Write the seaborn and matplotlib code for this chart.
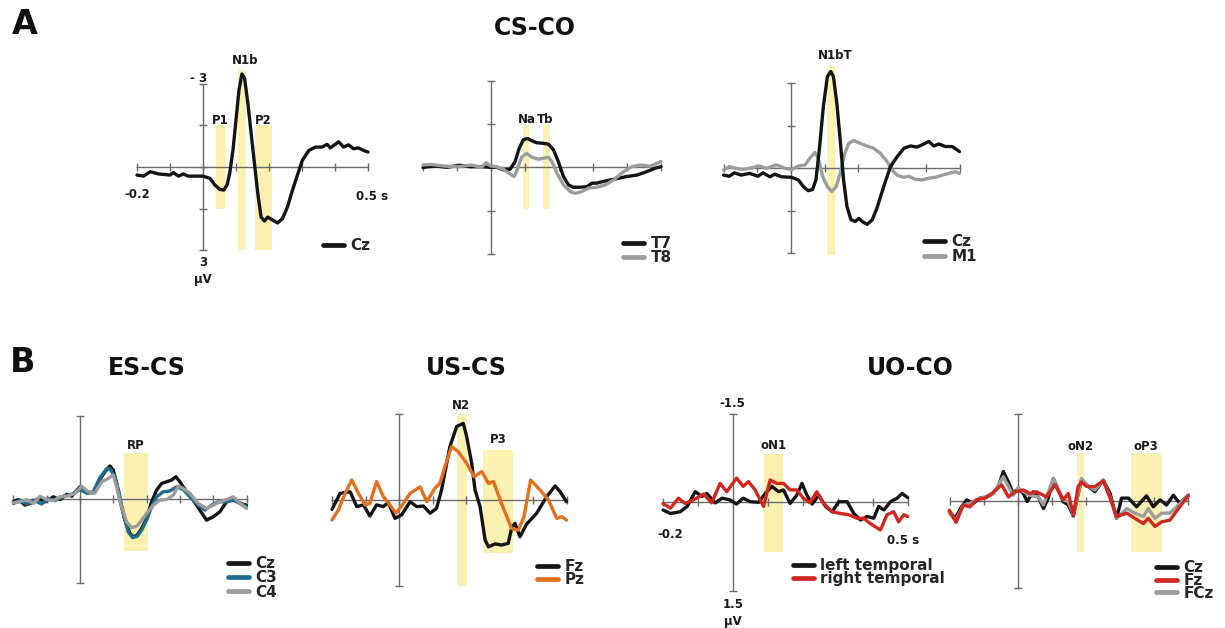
import numpy as np
import pandas as pd
import matplotlib
matplotlib.use("Agg")
import matplotlib.pyplot as plt
from matplotlib.lines import Line2D
import seaborn as sns

W, H = 1225, 628

# ---------------- colours ----------------
BLACK = "#141414"
GRAY = "#9c9c9c"
TEAL = "#1c6e8c"
ORANGE = "#e3701e"
RED = "#d0281e"
SHADE = "#fcf0b0"
AXIS = "#6a6a6a"

# ---------------- A: CS-CO, Cz ----------------
a1_t = [-0.2, -0.18, -0.16, -0.135, -0.1, -0.09, -0.074, -0.06, -0.045, -0.025, 0.0, 0.021,
        0.036, 0.051, 0.063, 0.073, 0.081, 0.091, 0.101, 0.109, 0.118, 0.126, 0.136, 0.146,
        0.156, 0.166, 0.176, 0.186, 0.196, 0.209, 0.226, 0.241, 0.256, 0.271, 0.286, 0.301,
        0.321, 0.341, 0.361, 0.376, 0.386, 0.411, 0.426, 0.441, 0.456, 0.471, 0.486, 0.5]
a1_cz = [0.29, 0.33, 0.17, 0.25, 0.29, 0.2, 0.33, 0.25, 0.33, 0.33, 0.33, 0.41,
         0.65, 0.81, 0.83, 0.65, 0.22, -0.62, -1.82, -2.78, -3.36, -3.2, -2.3, -1.2,
         -0.12, 0.96, 1.81, 1.95, 1.81, 1.9, 2.02, 1.86, 1.44, 0.84, 0.3, -0.24,
         -0.6, -0.72, -0.72, -0.82, -0.69, -0.91, -0.72, -0.8, -0.66, -0.69, -0.6, -0.54]

# ---------------- A: CS-CO, T7 / T8 ----------------
a2_t7_t = [-0.2, -0.186, -0.16, -0.13, -0.091, -0.062, -0.027, -0.002, 0.017, 0.037, 0.056,
           0.071, 0.083, 0.095, 0.107, 0.12, 0.134, 0.154, 0.169, 0.184, 0.198, 0.213, 0.228,
           0.242, 0.262, 0.282, 0.297, 0.311, 0.326, 0.35, 0.375, 0.399, 0.429, 0.458, 0.483, 0.5]
a2_t7 = [0.01, -0.02, -0.04, 0.0, -0.07, -0.02, -0.02, 0.0, 0.0, 0.09, 0.07,
         -0.2, -0.66, -0.95, -1.0, -0.92, -0.85, -0.83, -0.8, -0.6, -0.2, 0.32, 0.61,
         0.69, 0.69, 0.67, 0.55, 0.55, 0.5, 0.44, 0.38, 0.32, 0.27, 0.15, 0.03, -0.02]
a2_t8_t = [-0.2, -0.176, -0.136, -0.097, -0.058, -0.028, -0.014, -0.002, 0.017, 0.037, 0.056,
           0.068, 0.077, 0.09, 0.105, 0.12, 0.139, 0.154, 0.169, 0.179, 0.194, 0.213, 0.233,
           0.248, 0.267, 0.287, 0.311, 0.336, 0.36, 0.39, 0.414, 0.439, 0.468, 0.493, 0.5]
a2_t8 = [-0.08, -0.1, -0.04, -0.02, -0.08, 0.0, -0.16, -0.05, -0.02, 0.07, 0.23,
         0.32, 0.09, -0.35, -0.48, -0.35, -0.28, -0.31, -0.35, -0.2, 0.2, 0.61, 0.84,
         0.9, 0.84, 0.72, 0.69, 0.61, 0.44, 0.15, -0.02, -0.08, -0.04, -0.16, -0.2]

# ---------------- A: CS-CO, Cz / M1 ----------------
a3_cz_t = [-0.2, -0.183, -0.168, -0.148, -0.123, -0.098, -0.083, -0.063, -0.048, -0.028,
           0.002, 0.022, 0.037, 0.051, 0.064, 0.074, 0.084, 0.096, 0.108, 0.118, 0.126, 0.136,
           0.146, 0.156, 0.166, 0.178, 0.191, 0.201, 0.211, 0.226, 0.241, 0.255, 0.275, 0.295,
           0.315, 0.335, 0.355, 0.374, 0.389, 0.409, 0.424, 0.439, 0.458, 0.478, 0.493, 0.5]
a3_cz = [0.24, 0.28, 0.16, 0.24, 0.18, 0.28, 0.16, 0.3, 0.21, 0.3,
         0.32, 0.41, 0.65, 0.79, 0.75, 0.41, -0.65, -2.18, -3.24, -3.42, -3.24, -2.3,
         -1.0, 0.41, 1.35, 1.82, 1.88, 1.77, 1.88, 1.98, 1.82, 1.41, 0.65, -0.06,
         -0.41, -0.71, -0.79, -0.75, -0.83, -0.95, -0.79, -0.86, -0.77, -0.77, -0.65, -0.59]
a3_m1_t = [-0.2, -0.183, -0.163, -0.143, -0.123, -0.093, -0.073, -0.043, -0.018, 0.002,
           0.022, 0.042, 0.056, 0.071, 0.081, 0.094, 0.108, 0.121, 0.134, 0.146, 0.158, 0.171,
           0.186, 0.206, 0.225, 0.245, 0.265, 0.285, 0.3, 0.315, 0.334, 0.349, 0.369, 0.389,
           0.409, 0.429, 0.449, 0.468, 0.488, 0.5]
a3_m1 = [0.06, -0.06, 0.0, 0.04, 0.0, -0.08, 0.0, -0.12, 0.0, 0.04,
         -0.08, -0.12, -0.36, -0.56, -0.36, 0.29, 0.65, 0.82, 0.65, 0.18, -0.47, -0.88,
         -0.98, -0.88, -0.79, -0.71, -0.53, -0.24, 0.06, 0.24, 0.32, 0.28, 0.39, 0.41,
         0.35, 0.32, 0.24, 0.18, 0.12, 0.18]

# ---------------- B: ES-CS, Cz / C3 / C4 ----------------
b1_cz_t = [-0.2, -0.185, -0.165, -0.145, -0.125, -0.105, -0.08, -0.06, -0.04, -0.025, 0.0,
           0.02, 0.04, 0.055, 0.075, 0.09, 0.1, 0.11, 0.12, 0.135, 0.15, 0.16, 0.172, 0.185,
           0.2, 0.215, 0.23, 0.245, 0.26, 0.275, 0.288, 0.3, 0.32, 0.34, 0.36, 0.38, 0.4,
           0.42, 0.44, 0.46, 0.48, 0.5]
b1_cz = [0.09, 0.01, 0.21, 0.12, -0.03, 0.09, -0.09, 0.01, -0.18, -0.11, -0.45,
         -0.27, -0.23, -0.63, -0.99, -1.2, -1.05, -0.57, 0.03, 0.75, 1.23, 1.35, 1.29, 1.05,
         0.69, 0.09, -0.33, -0.57, -0.63, -0.69, -0.81, -0.63, -0.27, 0.03, 0.39, 0.75, 0.63,
         0.45, 0.09, 0.01, 0.15, 0.21]
b1_c3_t = [-0.2, -0.18, -0.16, -0.14, -0.115, -0.095, -0.075, -0.05, -0.025, 0.0, 0.022,
           0.04, 0.06, 0.08, 0.09, 0.105, 0.118, 0.132, 0.145, 0.158, 0.172, 0.185, 0.2,
           0.215, 0.23, 0.25, 0.27, 0.29, 0.31, 0.33, 0.35, 0.375, 0.395, 0.415, 0.44, 0.46,
           0.48, 0.5]
b1_c3 = [0.15, 0.03, 0.17, 0.03, 0.17, -0.03, 0.05, -0.11, -0.18, -0.35, -0.21,
         -0.27, -0.78, -1.1, -1.1, -0.8, -0.21, 0.63, 1.17, 1.38, 1.33, 1.11, 0.75,
         0.27, -0.09, -0.27, -0.3, -0.45, -0.35, -0.09, 0.15, 0.39, 0.21, 0.09, 0.09, 0.03,
         0.12, 0.27]
b1_c4_t = [-0.2, -0.18, -0.16, -0.14, -0.12, -0.1, -0.08, -0.06, -0.04, -0.015, 0.005,
           0.025, 0.045, 0.065, 0.085, 0.1, 0.11, 0.122, 0.14, 0.155, 0.17, 0.185, 0.2, 0.22,
           0.24, 0.26, 0.28, 0.295, 0.31, 0.33, 0.355, 0.38, 0.4, 0.42, 0.44, 0.46, 0.48, 0.5]
b1_c4 = [0.12, 0.09, 0.01, 0.15, -0.11, 0.01, 0.05, -0.09, -0.11, -0.21, -0.47,
         -0.27, -0.23, -0.63, -0.75, -0.87, -0.45, 0.15, 0.81, 1.02, 0.97, 0.75, 0.51, 0.21,
         0.03, 0.01, -0.15, -0.47, -0.39, -0.21, 0.15, 0.33, 0.21, 0.09, 0.01, -0.09, 0.15, 0.33]

# ---------------- B: US-CS, Fz / Pz ----------------
b2_fz_t = [-0.2, -0.176, -0.146, -0.126, -0.106, -0.087, -0.067, -0.047, -0.032, -0.012,
           0.008, 0.033, 0.053, 0.073, 0.093, 0.112, 0.127, 0.152, 0.172, 0.192, 0.202, 0.217,
           0.227, 0.242, 0.257, 0.267, 0.287, 0.306, 0.326, 0.336, 0.346, 0.361, 0.381, 0.411,
           0.441, 0.466, 0.481, 0.5]
b2_fz = [0.33, -0.23, -0.29, 0.23, 0.17, 0.56, 0.17, 0.23, 0.09, 0.64,
         0.52, 0.06, 0.23, 0.21, 0.46, 0.29, -0.35, -1.86, -2.56, -2.67, -2.21, -1.28,
         -0.35, 0.23, 1.39, 1.63, 1.53, 1.57, 1.51, 0.99, 0.81, 1.28, 0.84, 0.46,
         -0.12, -0.49, -0.29, 0.06]
b2_pz_t = [-0.2, -0.181, -0.161, -0.141, -0.121, -0.101, -0.087, -0.067, -0.047, -0.027,
           -0.009, 0.013, 0.033, 0.063, 0.083, 0.107, 0.122, 0.137, 0.157, 0.177, 0.202, 0.224,
           0.247, 0.267, 0.282, 0.306, 0.336, 0.356, 0.373, 0.393, 0.421, 0.446, 0.471, 0.486, 0.5]
b2_pz = [0.7, 0.35, -0.23, -0.7, -0.23, 0.17, 0.12, -0.64, -0.12, 0.17,
         0.46, 0.12, -0.23, -0.46, 0.06, -0.41, -0.58, -1.16, -1.86, -1.68, -1.28, -0.81,
         -0.99, -0.58, -0.64, 0.12, 0.99, 1.05, 0.58, -0.7, -0.35, 0.0, 0.64, 0.58, 0.7]

# ---------------- B: UO-CO, left / right temporal ----------------
b3_left_t = [-0.199, -0.178, -0.15, -0.13, -0.107, -0.088, -0.074, -0.05, -0.03, -0.008,
             0.011, 0.03, 0.05, 0.074, 0.093, 0.112, 0.131, 0.145, 0.164, 0.183, 0.198, 0.212,
             0.227, 0.246, 0.265, 0.284, 0.303, 0.327, 0.346, 0.365, 0.384, 0.403, 0.417,
             0.432, 0.451, 0.47, 0.484, 0.5]
b3_left = [0.13, 0.19, 0.16, 0.07, -0.18, -0.1, -0.15, 0.01, -0.07, -0.04,
           0.03, -0.07, -0.01, 0.0, -0.15, -0.27, -0.18, -0.21, 0.02, -0.12, -0.32, -0.12,
           0.03, -0.12, 0.07, 0.16, -0.01, -0.01, 0.19, 0.3, 0.24, 0.27, 0.07,
           0.13, -0.01, -0.07, -0.15, -0.08]
b3_right_t = [-0.199, -0.178, -0.155, -0.136, -0.112, -0.083, -0.06, -0.036, -0.017, 0.011,
              0.03, 0.045, 0.064, 0.088, 0.107, 0.126, 0.145, 0.164, 0.183, 0.202, 0.221, 0.24,
              0.26, 0.284, 0.308, 0.331, 0.355, 0.374, 0.393, 0.422, 0.441, 0.46, 0.474,
              0.489, 0.5]
b3_right = [0.02, 0.1, -0.07, 0.02, -0.04, -0.14, 0.01, -0.32, -0.18, -0.41,
            -0.27, -0.35, -0.21, 0.07, -0.38, -0.32, -0.32, -0.21, -0.21, -0.07, 0.01, -0.18,
            0.02, 0.16, 0.19, 0.21, 0.27, 0.27, 0.36, 0.47, 0.21, 0.16, 0.33,
            0.21, 0.24]

# ---------------- B: UO-CO, Cz / Fz / FCz ----------------
b4_cz_t = [-0.203, -0.186, -0.167, -0.152, -0.132, -0.113, -0.093, -0.074, -0.059, -0.044,
           -0.029, -0.015, 0.0, 0.015, 0.026, 0.044, 0.059, 0.074, 0.088, 0.103, 0.118, 0.132,
           0.147, 0.162, 0.172, 0.186, 0.201, 0.225, 0.25, 0.27, 0.289, 0.304, 0.324, 0.348,
           0.377, 0.397, 0.417, 0.436, 0.456, 0.475, 0.5]
b4_cz = [0.18, 0.3, 0.1, -0.02, 0.04, -0.05, -0.07, -0.13, -0.25, -0.51,
         -0.33, -0.13, -0.22, -0.13, 0.01, -0.16, -0.07, 0.13, -0.05, -0.39, -0.19, 0.01,
         0.07, 0.26, -0.02, -0.37, -0.28, -0.16, -0.36, -0.13, 0.3, -0.05, -0.05, 0.1,
         -0.09, 0.1, -0.02, 0.07, -0.1, 0.04, -0.1]
b4_fz_t = [-0.203, -0.183, -0.162, -0.142, -0.123, -0.098, -0.078, -0.049, -0.029, -0.01,
           0.015, 0.034, 0.054, 0.083, 0.108, 0.132, 0.147, 0.162, 0.176, 0.186, 0.201, 0.225,
           0.25, 0.27, 0.289, 0.319, 0.343, 0.368, 0.382, 0.402, 0.422, 0.446, 0.471, 0.5]
b4_fz = [0.16, 0.37, 0.07, 0.1, -0.02, -0.05, -0.13, -0.28, -0.07, -0.16,
         -0.19, -0.13, -0.16, -0.07, -0.28, -0.02, -0.13, 0.24, -0.25, -0.33, -0.25, -0.25,
         -0.35, -0.05, 0.27, 0.21, 0.3, 0.39, 0.3, 0.44, 0.36, 0.33, 0.13, -0.09]
b4_fcz_t = [-0.203, -0.183, -0.162, -0.142, -0.123, -0.098, -0.074, -0.044, -0.029, -0.015,
            0.0, 0.015, 0.034, 0.059, 0.074, 0.103, 0.118, 0.132, 0.147, 0.162, 0.186, 0.201,
            0.225, 0.25, 0.27, 0.289, 0.319, 0.343, 0.368, 0.382, 0.402, 0.422, 0.446, 0.471, 0.5]
b4_fcz = [0.21, 0.33, 0.07, 0.04, -0.02, -0.07, -0.13, -0.42, -0.25, -0.1,
          -0.22, -0.16, -0.1, -0.07, 0.07, -0.39, -0.19, -0.02, 0.01, 0.24, -0.39, -0.28,
          -0.19, -0.36, -0.07, 0.3, 0.13, 0.21, 0.27, 0.13, 0.3, 0.21, 0.21, 0.07, -0.09]

# ---------------- analysis windows: (label, t0, t1, v_top, v_bottom) ----------------
a1_windows = [("P1", 0.040, 0.067, -1.5, 1.5), ("N1b", 0.107, 0.130, -3.5, 3.0),
              ("P2", 0.157, 0.208, -1.5, 3.0)]
a2_windows = [("Na", 0.093, 0.113, -1.45, 1.45), ("Tb", 0.154, 0.174, -1.45, 1.45)]
a3_windows = [("N1bT", 0.108, 0.130, -3.6, 3.05)]
b1_windows = [("RP", 0.132, 0.205, -1.65, 1.85)]
b2_windows = [("N2", 0.174, 0.202, -3.0, 3.0), ("P3", 0.250, 0.341, -1.74, 1.86)]
b3_windows = [("oN1", 0.089, 0.145, -0.82, 0.85)]
b4_windows = [("oN2", 0.174, 0.194, -0.83, 0.89), ("oP3", 0.331, 0.422, -0.83, 0.89)]

sns.set_theme(style="white")
plt.rcParams["font.family"] = ["DejaVu Sans"]
plt.rcParams["font.weight"] = "bold"

fig = plt.figure(figsize=(W / 100, H / 100), dpi=100)
PT = 100 / 72.0


def erp_axes(px_t0, px_per_s, py_zero, px_per_uv, ylim, yticks, ybound):
    t_lo, t_hi = -0.215, 0.515
    v_lo, v_hi = ylim
    left = px_t0 + t_lo * px_per_s
    right = px_t0 + t_hi * px_per_s
    top = py_zero + v_lo * px_per_uv
    bottom = py_zero + v_hi * px_per_uv
    ax = fig.add_axes([left / W, 1 - bottom / H, (right - left) / W, (bottom - top) / H])
    ax.set_xlim(t_lo, t_hi)
    ax.set_ylim(v_hi, v_lo)  # negative up
    ax.set_facecolor("none")
    for s in ("top", "right"):
        ax.spines[s].set_visible(False)
    ax.spines["left"].set_position(("data", 0))
    ax.spines["bottom"].set_position(("data", 0))
    ax.spines["left"].set_bounds(*ybound)
    ax.spines["bottom"].set_bounds(-0.2, 0.5)
    for s in ("left", "bottom"):
        ax.spines[s].set_color(AXIS)
        ax.spines[s].set_linewidth(1.0)
    ax.set_xticks(np.round(np.arange(-0.2, 0.51, 0.1), 2))
    ax.set_yticks(yticks)
    ax.set_xticklabels([])
    ax.set_yticklabels([])
    ax.tick_params(axis="both", direction="inout", length=6, width=1.0, colors=AXIS,
                   bottom=True, left=True)
    return ax


def draw_windows(ax, windows):
    for name, t0, t1, v0, v1 in windows:
        ax.fill_between([t0, t1], [v0, v0], [v1, v1], color=SHADE, lw=0, zorder=0)


def draw_traces(ax, series, palette, order):
    frames = [pd.DataFrame({"t": t, "uV": v, "ch": ch}) for ch, (t, v) in series.items()]
    df = pd.concat(frames, ignore_index=True)
    sns.lineplot(data=df, x="t", y="uV", hue="ch", hue_order=order, palette=palette,
                 ax=ax, legend=False, linewidth=2.4, estimator=None, sort=True, zorder=3,
                 solid_joinstyle="round", solid_capstyle="round")
    ax.set_xlabel("")
    ax.set_ylabel("")


def add_legend(ax, labels, colors, x_px, y_px, step_px, size=11):
    handles = [Line2D([], [], color=c, lw=3.4) for c in colors]
    row = size * PT * 1.16
    ls = (step_px - row) / (size * PT)
    ax.legend(handles, labels, loc="upper left",
              bbox_to_anchor=(x_px / W, 1 - (y_px - row / 2) / H),
              bbox_transform=fig.transFigure, frameon=False, handlelength=1.4,
              handletextpad=0.4, borderpad=0, borderaxespad=0, labelspacing=ls,
              prop={"weight": "bold", "size": size})


def lab(ax, t, v, s, size=8.5, ha="center"):
    ax.text(t, v, s, ha=ha, va="center", fontsize=size, fontweight="bold", color="#1a1a1a")


# ---- A1 ----
ax = erp_axes(203, 330, 167, 27.7, (-3.9, 3.2), [-3, -1.5, 0, 1.5, 3], (-3, 3))
draw_windows(ax, a1_windows)
draw_traces(ax, {"Cz": (a1_t, a1_cz)}, {"Cz": BLACK}, ["Cz"])
lab(ax, 0.053, -1.68, "P1")
lab(ax, 0.127, -3.83, "N1b")
lab(ax, 0.182, -1.68, "P2")
lab(ax, 0.012, -3.2, "- 3", ha="right")
lab(ax, 0.0, 3.43, "3")
lab(ax, 0.0, 4.05, "µV")
lab(ax, -0.2, 1.0, "-0.2")
lab(ax, 0.512, 1.08, "0.5 s")
add_legend(ax, ["Cz"], [BLACK], 323, 247, 17)

# ---- A2 ----
ax = erp_axes(491, 340, 167.3, 28.9, (-3.2, 3.2), [-3, -1.5, 0, 1.5, 3], (-3, 3))
draw_windows(ax, a2_windows)
draw_traces(ax, {"T7": (a2_t7_t, a2_t7), "T8": (a2_t8_t, a2_t8)},
            {"T7": BLACK, "T8": GRAY}, ["T7", "T8"])
lab(ax, 0.105, -1.65, "Na")
lab(ax, 0.16, -1.65, "Tb")
add_legend(ax, ["T7", "T8"], [BLACK, GRAY], 623, 245, 17)

# ---- A3 ----
ax = erp_axes(791, 337, 168.3, 28.3, (-4.1, 3.2), [-3, -1.5, 0, 1.5, 3], (-3, 3))
draw_windows(ax, a3_windows)
draw_traces(ax, {"Cz": (a3_cz_t, a3_cz), "M1": (a3_m1_t, a3_m1)},
            {"Cz": BLACK, "M1": GRAY}, ["M1", "Cz"])
lab(ax, 0.13, -3.97, "N1bT")
add_legend(ax, ["Cz", "M1"], [BLACK, GRAY], 924, 243, 17.5)

# ---- B1 ----
ax = erp_axes(80, 333, 499.3, 27.8, (-3.2, 3.2), [-3, 3], (-3, 3))
draw_windows(ax, b1_windows)
draw_traces(ax, {"Cz": (b1_cz_t, b1_cz), "C3": (b1_c3_t, b1_c3), "C4": (b1_c4_t, b1_c4)},
            {"Cz": BLACK, "C3": TEAL, "C4": GRAY}, ["Cz", "C3", "C4"])
lab(ax, 0.168, -1.95, "RP")
add_legend(ax, ["Cz", "C3", "C4"], [BLACK, TEAL, GRAY], 228, 565, 17)

# ---- B2 ----
ax = erp_axes(399, 335, 500, 28.7, (-3.5, 3.2), [-3, 3], (-3, 3))
draw_windows(ax, b2_windows)
draw_traces(ax, {"Fz": (b2_fz_t, b2_fz), "Pz": (b2_pz_t, b2_pz)},
            {"Fz": BLACK, "Pz": ORANGE}, ["Fz", "Pz"])
lab(ax, 0.185, -3.3, "N2")
lab(ax, 0.295, -2.1, "P3")
add_legend(ax, ["Fz", "Pz"], [BLACK, ORANGE], 537, 568, 15.5)

# ---- B3 ----
ax = erp_axes(732.7, 350, 502.3, 59, (-1.6, 1.6), [-1.5, 1.5], (-1.5, 1.5))
draw_windows(ax, b3_windows)
draw_traces(ax, {"left temporal": (b3_left_t, b3_left), "right temporal": (b3_right_t, b3_right)},
            {"left temporal": BLACK, "right temporal": RED}, ["left temporal", "right temporal"])
lab(ax, 0.117, -0.97, "oN1")
lab(ax, 0.0, -1.68, "-1.5")
lab(ax, 0.0, 1.74, "1.5")
lab(ax, 0.0, 2.02, "µV")
lab(ax, -0.179, 0.55, "-0.2")
lab(ax, 0.486, 0.64, "0.5 s")
add_legend(ax, ["left temporal", "right temporal"], [BLACK, RED], 793, 567, 16)

# ---- B4 ----
ax = erp_axes(1018.3, 340, 501, 57.8, (-1.6, 1.6), [-1.5, 1.5], (-1.5, 1.5))
draw_windows(ax, b4_windows)
draw_traces(ax, {"Cz": (b4_cz_t, b4_cz), "Fz": (b4_fz_t, b4_fz), "FCz": (b4_fcz_t, b4_fcz)},
            {"Cz": BLACK, "Fz": RED, "FCz": GRAY}, ["Cz", "FCz", "Fz"])
lab(ax, 0.184, -0.95, "oN2")
lab(ax, 0.376, -0.95, "oP3")
add_legend(ax, ["Cz", "Fz", "FCz"], [BLACK, RED, GRAY], 1156, 569, 15.5)

# ---- panel letters and titles ----
def ftext(x, y, s, size):
    fig.text(x / W, 1 - y / H, s, ha="center", va="center", fontsize=size,
             fontweight="bold", color="#111111")

ftext(25, 25, "A", 24)
ftext(535, 28, "CS-CO", 17)
ftext(23, 362, "B", 24)
ftext(147, 368, "ES-CS", 17)
ftext(466, 368, "US-CS", 17)
ftext(910, 368, "UO-CO", 17)

fig.savefig("out.png", dpi=100)
